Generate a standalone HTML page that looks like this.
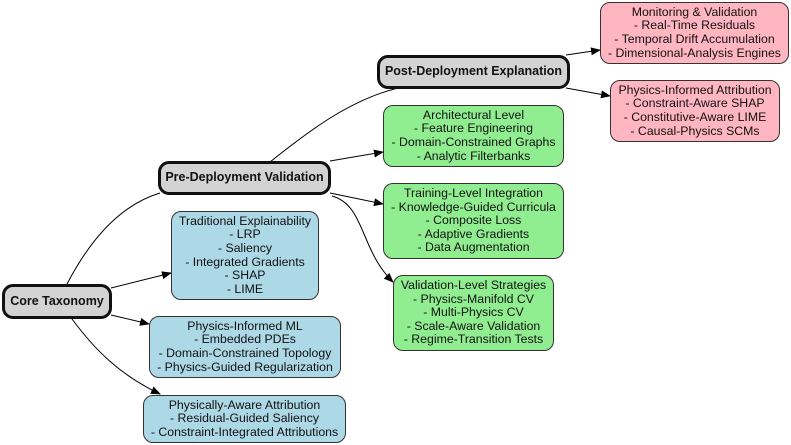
<!DOCTYPE html>
<html><head><style>
body{margin:0;width:791px;height:445px;background:#fff;position:relative;overflow:hidden;font-family:"Liberation Sans",sans-serif;}
.n{position:absolute;box-sizing:border-box;border:1px solid #333;border-radius:10px;text-align:center;font-size:12.3px;line-height:13.6px;color:#111;display:flex;flex-direction:column;justify-content:center;white-space:nowrap;}
.g{background:#d3d3d3;border:3px solid #111;font-weight:bold;font-size:12.5px;border-radius:11px;}
.b{background:#add8e6;}
.gr{background:#90ee90;}
.p{background:#ffb6c1;}
svg{position:absolute;left:0;top:0;}
</style></head><body>
<svg width="791" height="445">
<defs><marker id="a" markerWidth="10" markerHeight="8" refX="9" refY="4" orient="auto" markerUnits="userSpaceOnUse"><path d="M0,0L10,4L0,8z" fill="#000"/></marker></defs>
<g fill="none" stroke="#000" stroke-width="1">
<path d="M67,284 C90,240 120,205 160,193"/>
<path d="M270,162 C310,130 350,100 398,88"/>
<path d="M330,161 L383,152" marker-end="url(#a)"/>
<path d="M330,193 L383,204" marker-end="url(#a)"/>
<path d="M332,196 C365,205 360,250 393,282" marker-end="url(#a)"/>
<path d="M111,288 L171,273" marker-end="url(#a)"/>
<path d="M111,315 L149,324" marker-end="url(#a)"/>
<path d="M72,319 C95,350 120,375 160,394" marker-end="url(#a)"/>
<path d="M566,55 L600,50" marker-end="url(#a)"/>
<path d="M566,88 L610,96" marker-end="url(#a)"/>
</g></svg>
<div class="n g" style="left:2px;top:284px;width:110px;height:35px">Core Taxonomy</div>
<div class="n g" style="left:158px;top:161px;width:173px;height:34px">Pre-Deployment Validation</div>
<div class="n g" style="left:377px;top:55px;width:193px;height:34px">Post-Deployment Explanation</div>
<div class="n b" style="left:171px;top:211px;width:148px;height:89px">Traditional Explainability<br>- LRP<br>- Saliency<br>- Integrated Gradients<br>- SHAP<br>- LIME</div>
<div class="n b" style="left:149px;top:316px;width:192px;height:62px">Physics-Informed ML<br>- Embedded PDEs<br>- Domain-Constrained Topology<br>- Physics-Guided Regularization</div>
<div class="n b" style="left:143px;top:395px;width:203px;height:48px">Physically-Aware Attribution<br>- Residual-Guided Saliency<br>- Constraint-Integrated Attributions</div>
<div class="n gr" style="left:383px;top:105px;width:181px;height:62px">Architectural Level<br>- Feature Engineering<br>- Domain-Constrained Graphs<br>- Analytic Filterbanks</div>
<div class="n gr" style="left:383px;top:183px;width:181px;height:76px">Training-Level Integration<br>- Knowledge-Guided Curricula<br>- Composite Loss<br>- Adaptive Gradients<br>- Data Augmentation</div>
<div class="n gr" style="left:393px;top:275px;width:161px;height:76px">Validation-Level Strategies<br>- Physics-Manifold CV<br>- Multi-Physics CV<br>- Scale-Aware Validation<br>- Regime-Transition Tests</div>
<div class="n p" style="left:600px;top:2px;width:189px;height:62px">Monitoring &amp; Validation<br>- Real-Time Residuals<br>- Temporal Drift Accumulation<br>- Dimensional-Analysis Engines</div>
<div class="n p" style="left:610px;top:80px;width:170px;height:62px">Physics-Informed Attribution<br>- Constraint-Aware SHAP<br>- Constitutive-Aware LIME<br>- Causal-Physics SCMs</div>
</body></html>
